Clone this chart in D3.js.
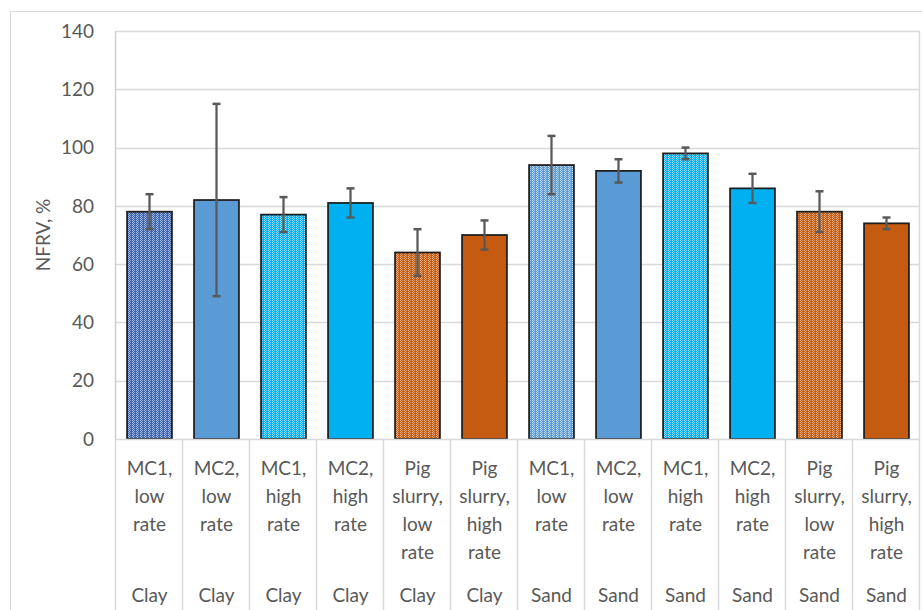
<!DOCTYPE html>
<html>
<head>
<meta charset="utf-8">
<script src="https://cdn.jsdelivr.net/npm/d3@7"></script>
<style>
  html, body { margin: 0; padding: 0; background: #fff; }
  svg { display: block; }
  text { font-family: Lato, "Open Sans", sans-serif; fill: #595959; }
</style>
</head>
<body>
<svg id="chart" width="922" height="610"></svg>
<script>
// ---------- data ----------
const categories = [
  "MC1, low rate", "MC2, low rate", "MC1, high rate", "MC2, high rate",
  "Pig slurry, low rate", "Pig slurry, high rate",
  "MC1, low rate", "MC2, low rate", "MC1, high rate", "MC2, high rate",
  "Pig slurry, low rate", "Pig slurry, high rate"
];
const labelLines = [
  ["MC1,", "low", "rate"], ["MC2,", "low", "rate"], ["MC1,", "high", "rate"], ["MC2,", "high", "rate"],
  ["Pig", "slurry,", "low", "rate"], ["Pig", "slurry,", "high", "rate"],
  ["MC1,", "low", "rate"], ["MC2,", "low", "rate"], ["MC1,", "high", "rate"], ["MC2,", "high", "rate"],
  ["Pig", "slurry,", "low", "rate"], ["Pig", "slurry,", "high", "rate"]
];
const soils = ["Clay", "Clay", "Clay", "Clay", "Clay", "Clay", "Sand", "Sand", "Sand", "Sand", "Sand", "Sand"];
const values  = [78, 82, 77, 81, 64, 70, 94, 92, 98, 86, 78, 74];
const errLow  = [72, 49, 71, 76, 56, 65, 84, 88, 96, 81, 71, 72];
const errHigh = [84, 115, 83, 86, 72, 75, 104, 96, 100, 91, 85, 76];
const fillKeys = ["patDark", "solidBlue", "patCyan", "solidCyan", "patOrange", "solidOrange",
                  "patLight", "solidBlue", "patCyan", "solidCyan", "patOrange", "solidOrange"];
const yTicks = [0, 20, 40, 60, 80, 100, 120, 140];
const yTitle = "NFRV, %";

// ---------- layout ----------
const svg = d3.select("#chart");
const pLeft = 116, pRight = 920, pTop = 31, pBottom = 439;

const x = d3.scaleBand().domain(d3.range(categories.length)).range([pLeft, pRight]).paddingInner(0.33).paddingOuter(0.165);
const xb = d3.scaleBand().domain(d3.range(categories.length)).range([pLeft, pRight]);
const y = d3.scaleLinear().domain([0, 140]).range([pBottom, pTop]);

// patterns
const defs = svg.append("defs");
const pats = {
  patDark:   ["#3f66b3", "#a9bde3"],
  patLight:  ["#5b9bd5", "#c3dcf2"],
  patCyan:   ["#00b0f0", "#a6e3fa"],
  patOrange: ["#c55a11", "#eeb48e"]
};
Object.entries(pats).forEach(([id, [base, light]]) => {
  const p = defs.append("pattern").attr("id", id).attr("width", 4).attr("height", 2)
    .attr("patternUnits", "userSpaceOnUse");
  p.append("rect").attr("width", 4).attr("height", 2).attr("fill", base);
  p.append("rect").attr("x", 0).attr("y", 0).attr("width", 1).attr("height", 1).attr("fill", light);
  p.append("rect").attr("x", 1).attr("y", 1).attr("width", 1).attr("height", 1).attr("fill", light);
  p.append("rect").attr("x", 2).attr("y", 0).attr("width", 1).attr("height", 1).attr("fill", light).attr("opacity", 0.6);
});
const solids = { solidBlue: "#5b9bd5", solidCyan: "#00b0f0", solidOrange: "#c55a11" };
const fillOf = k => solids[k] ? solids[k] : `url(#${k})`;

// outer chart border
svg.append("rect").attr("x", 10.5).attr("y", 11.5).attr("width", 930).attr("height", 620)
  .attr("fill", "none").attr("stroke", "#d9d9d9").attr("stroke-width", 1);

// gridlines
svg.append("g").selectAll("line").data(yTicks.filter(d => d > 0)).join("line")
  .attr("x1", pLeft).attr("x2", pRight)
  .attr("y1", d => Math.round(y(d)) + 0.5).attr("y2", d => Math.round(y(d)) + 0.5)
  .attr("stroke", "#d9d9d9").attr("stroke-width", 1.5);

// left axis line and right border line
svg.append("line").attr("x1", pLeft - 0.5).attr("x2", pLeft - 0.5).attr("y1", pTop).attr("y2", pBottom)
  .attr("stroke", "#d0d0d0").attr("stroke-width", 1.5);
svg.append("line").attr("x1", 919.5).attr("x2", 919.5).attr("y1", pTop).attr("y2", pBottom)
  .attr("stroke", "#d9d9d9").attr("stroke-width", 1.5);

// y tick labels
svg.append("g").selectAll("text").data(yTicks).join("text")
  .attr("x", 94).attr("y", d => y(d)).attr("dy", "0.35em")
  .attr("text-anchor", "end").attr("font-size", 19).text(d => d);

// y title
svg.append("text").attr("transform", `translate(50,${(pTop + pBottom) / 2}) rotate(-90)`)
  .attr("text-anchor", "middle").attr("font-size", 19).text(yTitle);

// bars
svg.append("g").selectAll("rect").data(values).join("rect")
  .attr("x", (d, i) => x(i)).attr("width", x.bandwidth())
  .attr("y", d => y(d)).attr("height", d => pBottom - y(d))
  .attr("fill", (d, i) => fillOf(fillKeys[i]))
  .attr("stroke", "#1e1e1e").attr("stroke-width", 1.75);

// x axis line (category axis) and separators
svg.append("line").attr("x1", pLeft).attr("x2", pRight).attr("y1", pBottom + 0.5).attr("y2", pBottom + 0.5)
  .attr("stroke", "#d9d9d9").attr("stroke-width", 1.5);
svg.append("g").selectAll("line").data(d3.range(categories.length + 1)).join("line")
  .attr("x1", i => (i < categories.length ? xb(i) : pRight) - 0.5)
  .attr("x2", i => (i < categories.length ? xb(i) : pRight) - 0.5)
  .attr("y1", pBottom).attr("y2", 610)
  .attr("stroke", "#d9d9d9").attr("stroke-width", 1.5);

// error bars
const eg = svg.append("g").attr("stroke", "#595959");
values.forEach((v, i) => {
  const cx = x(i) + x.bandwidth() / 2;
  eg.append("line").attr("x1", cx).attr("x2", cx).attr("y1", y(errLow[i])).attr("y2", y(errHigh[i]))
    .attr("stroke-width", 2.25);
  [errLow[i], errHigh[i]].forEach(e => {
    eg.append("line").attr("x1", cx - 4).attr("x2", cx + 4).attr("y1", y(e)).attr("y2", y(e))
      .attr("stroke-width", 2.5);
  });
});

// category labels
const lg = svg.append("g");
labelLines.forEach((lines, i) => {
  const cx = xb(i) + xb.bandwidth() / 2;
  const t = lg.append("text").attr("text-anchor", "middle").attr("font-size", 19);
  lines.forEach((ln, j) => {
    t.append("tspan").attr("x", cx).attr("y", 475 + j * 28).text(ln);
  });
  lg.append("text").attr("text-anchor", "middle").attr("font-size", 19)
    .attr("x", cx).attr("y", 602).text(soils[i]);
});
</script>
</body>
</html>
